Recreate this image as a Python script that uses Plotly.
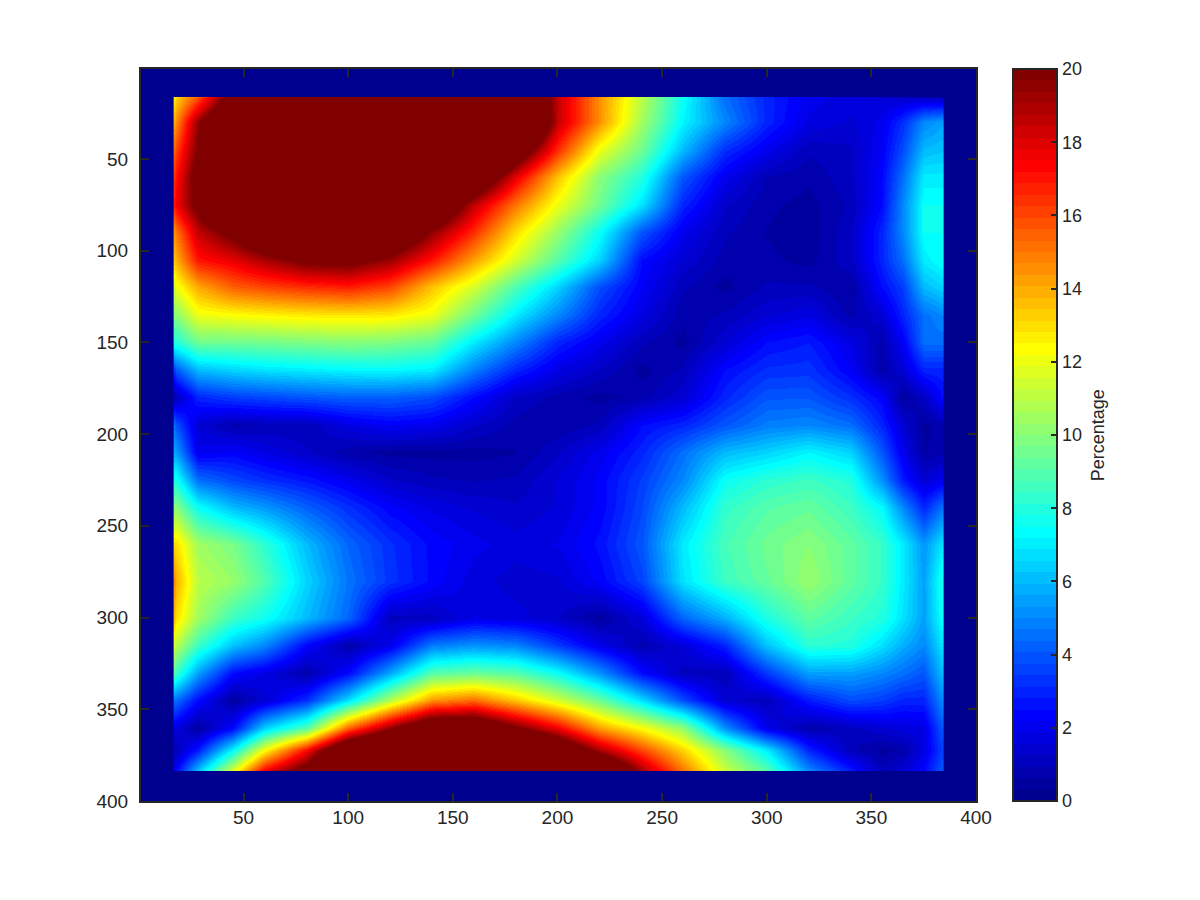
import plotly.graph_objects as go

# sample positions in image units
x_samples = [16.9, 17.5, 28, 45, 60, 80, 100, 120, 140, 160, 180, 200, 220, 240, 260, 280, 300, 320, 340, 355, 365, 375, 383.5, 384.1]
y_samples = [16.5, 17, 30, 45, 60, 75, 90, 105, 120, 135, 150, 165, 180, 195, 210, 225, 240, 260, 280, 300, 315, 330, 345, 360, 372, 383, 383.3]

# percentage (rows top to bottom); >20 is saturated
row_016 = [12.5,13,15.5,21,26,30,32,33,33,30,25,18.5,14.5,11,7.5,4.5,3,2,1.7,1.5,1.2,1,.8,.8]
row_017 = [12.7,13.2,15.8,21.5,26.5,30.5,32.5,33.5,33.5,30.5,25.5,18.5,14.5,11,7.5,4.5,3,2,1.7,1.6,1.4,1.4,1.2,1.2]
row_030 = [14,14.5,19.5,24,29,33,36,37,36,33,27,18.5,14.5,10.5,7.2,5,3,1.8,1.5,2,3.2,5,5.5,5.5]
row_045 = [15.5,16,20,27,31,35,37,38,36,30,22,16.5,12,9.5,6,3.2,2,1,1.2,2.2,3.8,6,6.2,6.2]
row_060 = [16.5,17,21,28,32,35,37,36,31,23,17.8,13.5,10,8,4,2,.9,.7,1.2,2.4,4.5,7,7,7]
row_075 = [17,17.5,20.5,26,29,31,31,28,23.5,18.5,15,12,9.5,6.8,3,1.3,.7,.5,1,2.5,5,7.5,7.5,7.5]
row_090 = [14.5,15,18.5,20.5,23,25,25,23,19.5,16.5,13,10.3,7.5,4,2,1,.6,.4,1.2,3,5,7.5,7.5,7.5]
row_105 = [13.5,13.8,17,17.8,19,20.3,20.5,19.3,17,14.2,11.5,9,6.5,2.5,1.5,.8,.7,.5,1.2,3,4.5,7,7.5,7.5]
row_120 = [11.5,12,14,15.5,16,16.5,16.8,16,13.5,11.5,8.8,6.5,3.8,2.2,1,.5,1,1,.6,2.5,3.5,6,6.5,6.5]
row_135 = [10,10,12,12.3,12.5,12.7,12.8,12.7,12,9.5,7,5,3,1.8,.7,1,1.5,1.8,.8,1.5,3,4.5,5,5]
row_150 = [8,8,9.5,9.5,9.6,9.8,10,9.8,9.3,7,5,3,2,1,.5,1.5,2.5,2.8,1.8,.8,2.2,4.5,4.5,4.5]
row_165 = [3.5,4,6,6.5,6.8,7,7.2,7.3,7,4.8,3,1.8,1.2,.5,1,2.5,3.2,3.3,2.2,.7,1.5,3,3,3]
row_180 = [.8,1,3,3.5,3.7,4,4.2,4.2,3.8,2.5,1.2,.8,.5,.8,1.5,3,4,4,3.2,2.3,.5,1.2,2.5,2.5]
row_195 = [4.5,4,1.5,.8,1,1,1.8,2.2,2,1.3,.8,.7,1,2.5,3,4,4.8,5,4.5,3,1.5,.5,.8,.8]
row_210 = [5.5,5.5,2,2.3,1.8,1.3,.7,.5,.5,.5,.6,1.2,2,3,4.5,6,6.5,7.2,6.5,4,2,.6,.8,.8]
row_225 = [7.8,7.8,4.5,3.7,3.2,2.7,2,1.3,1,.9,1,1.6,2.3,3.5,5,7.5,8.2,8.5,8,5.2,2.8,1.5,2,2]
row_240 = [10,10,7.5,6,5.3,4.2,3.2,2.3,1.8,1.5,1.3,1.6,2.3,3.7,6,8.3,9,9.3,8.5,7.3,5,3,4.5,4.5]
row_260 = [13,13,10.5,9.7,8.2,6,4.3,3.2,2.4,2,1.7,1.9,2.6,4,7,8.7,9.5,10,9.2,8.4,7,5.3,6.8,6.8]
row_280 = [14.5,14,11,10.3,8.9,6.5,4.6,3.3,2.4,1.7,1.4,1.5,2.3,3.6,6.8,8.5,9.3,10.3,9.2,8.4,7,5.5,7.8,7.8]
row_300 = [13.5,13,10.5,8.5,7.6,6,4.3,1.1,1.1,1.9,1.7,1.3,.5,1.6,4.3,5.8,7.9,9.2,8.5,8,6.8,5.5,7.5,7.5]
row_315 = [11.5,11,8.5,6.2,5,2.4,.7,1.9,4.7,5.2,4.9,3.4,1.9,.8,1.6,3,6.2,8.2,8,6.8,5.8,5,6.8,6.8]
row_330 = [9,8.5,5.5,2.5,1.8,.7,2.5,5.6,9,9.4,9,7.5,5.2,2.5,1.1,1,3.4,5.5,5.5,5,4.5,4,6,6]
row_345 = [4.5,4.5,2.5,.5,1.5,3.2,6.8,10.8,14.4,15.2,13.4,11.5,9.4,6.7,3.8,1.4,1,2.8,3.8,3.5,3,3,5,5]
row_360 = [1.8,1.7,.5,2.4,6.5,9,15.5,19.5,23,23,20.2,17.6,14.2,12.3,10.2,5.2,1.9,.7,1.1,1.5,1.7,1.8,4,4]
row_372 = [1,1,2.8,7.3,12.3,17.3,24,26,30,30,27,23,19,16,13.2,10,7,3,1,.5,.7,1.8,3.5,3.5]
row_383 = [2,2.2,6,11.5,17.4,21,28,31,34,36,34,30,24,19,15,11.3,9,5,2.8,1,1.5,2.4,4,4]
row_384 = [2,2.2,6,11.7,17.6,21.5,28.5,31.5,34.5,36,34,30,24,19,15,11.3,9,5,2.8,1,1.5,2.4,4,4]
z_rows = [row_016,row_017,row_030,row_045,row_060,row_075,row_090,row_105,row_120,row_135,row_150,row_165,
          row_180,row_195,row_210,row_225,row_240,row_260,row_280,row_300,row_315,row_330,row_345,row_360,
          row_372,row_383,row_384]

tick_vals = [50, 100, 150, 200, 250, 300, 350, 400]
bar_ticks = [0, 2, 4, 6, 8, 10, 12, 14, 16, 18, 20]

def jet(t):
    def ramp(v):
        return max(0.0, min(1.0, 1.5 - abs(4 * t - v)))
    return f"rgb({round(255*ramp(3))},{round(255*ramp(2))},{round(255*ramp(1))})"

levels = 64
jet_scale = []
for i in range(levels):
    c = jet((i + 1) / levels)
    jet_scale += [[i / levels, c], [(i + 1) / levels, c]]

INK = "#262626"
NAVY = "#00008f"
fig = go.Figure(go.Heatmap(
    x=x_samples, y=y_samples, z=z_rows, zmin=0, zmax=20, zsmooth="best",
    colorscale=jet_scale,
    colorbar=dict(thickness=44, len=1, y=0.5, yanchor="middle", ypad=0, xpad=0,
                  x=1.0447, xanchor="left", outlinecolor=INK, outlinewidth=2,
                  ticks="inside", ticklen=7, tickcolor=INK, tickwidth=1.5,
                  tickvals=bar_ticks, tickfont=dict(family="Liberation Sans", size=18, color=INK)),
))
axis = dict(range=[1, 400], tickvals=tick_vals, ticks="inside", ticklen=8, tickwidth=1.5,
            tickcolor=INK, mirror="allticks", showline=True, linecolor=INK, linewidth=2,
            showgrid=False, zeroline=False, tickfont=dict(family="Liberation Sans", size=19, color=INK))
fig.update_layout(
    width=1185, height=885, autosize=False, margin=dict(l=133, r=217, t=61, b=92),
    paper_bgcolor="white", plot_bgcolor=NAVY,
    xaxis=dict(axis, ticklabelstandoff=-2), yaxis=dict(axis, range=[400, 1], ticklabelstandoff=7),
    annotations=[dict(text="Percentage", xref="paper", yref="paper", x=1.1465, y=0.5,
                      textangle=-90, showarrow=False, xanchor="center", yanchor="middle",
                      font=dict(family="Liberation Sans", size=18, color=INK))],
)
fig.write_html("out.html")
